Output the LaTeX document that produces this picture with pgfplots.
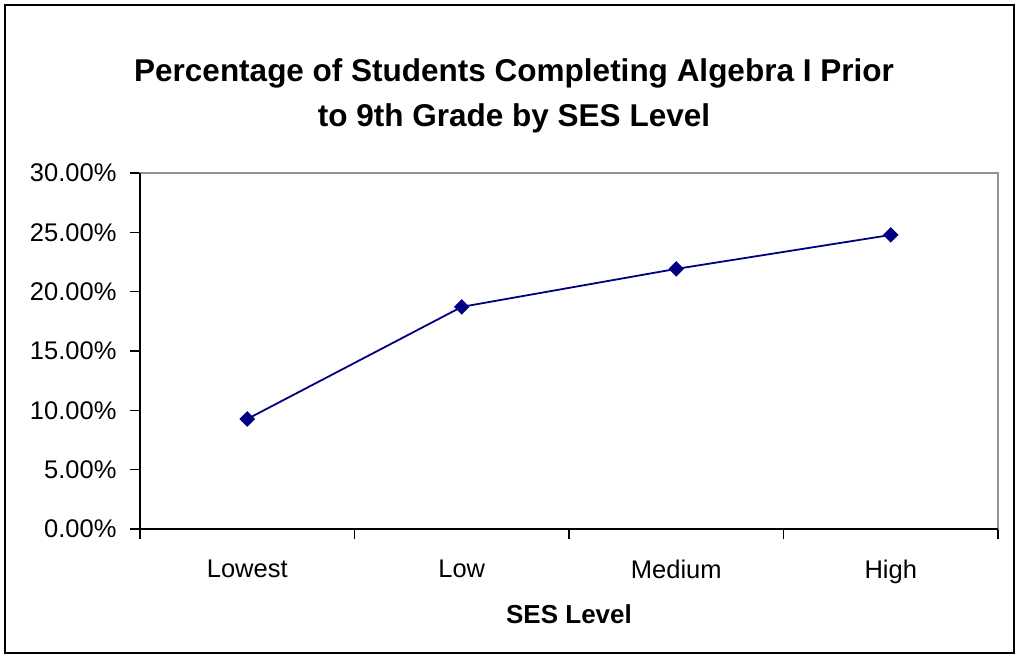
\documentclass[border=0pt]{standalone}
\usepackage{fontspec}
\setmainfont{Liberation Sans}
\usepackage{pgfplots}
\pgfplotsset{compat=1.18}
\definecolor{navyline}{RGB}{0,0,128}
\begin{document}
\begin{tikzpicture}[x=1pt,y=1pt]
\path[use as bounding box] (0,0) rectangle (1019,-657);
\draw[line width=2.5pt] (5,-5) rectangle (1014,-653);
\node[font=\fontsize{31.5}{45}\selectfont\bfseries, align=center] at (514,-96) {Percentage of Students Completing Algebra I Prior\\to 9th Grade by SES Level};
\begin{axis}[
  at={(140pt,-529pt)}, anchor=south west,
  scale only axis, width=858pt, height=356pt,
  xmin=-0.5, xmax=3.5, ymin=0, ymax=30,
  axis line style={draw=gray!85, line width=1.5pt},
  axis lines=box,
  xtick={0,1,2,3},
  xticklabels={Lowest,Low,Medium,High},
  minor xtick={-0.5,0.5,1.5,2.5,3.5},
  major x tick style={draw=none},
  minor x tick style={black, line width=1.5pt},
  minor tick length=10pt,
  ytick={0,5,10,15,20,25,30},
  y tick style={black, line width=1.5pt},
  major tick length=10pt,
  tick align=outside,
  xtick pos=bottom, ytick pos=left,
  yticklabel={\pgfmathprintnumber[fixed,fixed zerofill,precision=2]{\tick}\%},
  /pgf/number format/assume math mode=true,
  ticklabel style={font=\fontsize{25.5}{30}\selectfont},
  xticklabel style={yshift=-17pt},
  yticklabel style={xshift=-10pt},
  xlabel={\textbf{SES Level}},
  xlabel style={font=\fontsize{26}{30}\selectfont, yshift=-14pt},
  clip=false,
]
\addplot[navyline, line width=1.8pt, mark=square*, mark size=4.6pt, mark options={rotate=45, fill=navyline, draw=navyline}]
  coordinates {(0,9.27) (1,18.72) (2,21.92) (3,24.78)};
\draw[black, line width=1.5pt] (rel axis cs:0,1) -- (rel axis cs:0,0) -- (rel axis cs:1,0);
\end{axis}
\end{tikzpicture}
\end{document}
